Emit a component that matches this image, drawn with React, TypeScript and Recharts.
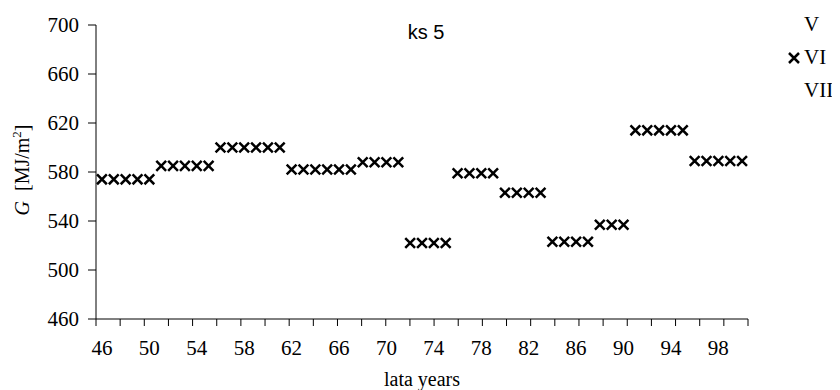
import React from "react";
import { ComposedChart, Line, XAxis, YAxis, Legend } from "recharts";

const yearLabels = [
  "46", "47", "48", "49", "50", "51", "52", "53", "54", "55",
  "56", "57", "58", "59", "60", "61", "62", "63", "64", "65",
  "66", "67", "68", "69", "70", "71", "72", "73", "74", "75",
  "76", "77", "78", "79", "80", "81", "82", "83", "84", "85",
  "86", "87", "88", "89", "90", "91", "92", "93", "94", "95",
  "96", "97", "98", "99", "00",
];

// Series VI (the only one with visible markers)
const valuesVI = [
  574, 574, 574, 574, 574,
  585, 585, 585, 585, 585,
  600, 600, 600, 600, 600, 600,
  582, 582, 582, 582, 582, 582,
  588, 588, 588, 588,
  522, 522, 522, 522,
  579, 579, 579, 579,
  563, 563, 563, 563,
  523, 523, 523, 523,
  537, 537, 537,
  614, 614, 614, 614, 614,
  589, 589, 589, 589, 589,
];

const seriesNames = ["V", "VI", "VII"];
const yTicks = [460, 500, 540, 580, 620, 660, 700];
const yDomain = [460, 700];
const title = "ks 5";
const xTitle = "lata years";

const data = yearLabels.map((year, i) => ({ year, VI: valuesVI[i] }));
const gridTicks = yearLabels.map((_, i) => i).filter((i) => i % 2 === 0);

const SERIF = "'Liberation Serif', 'Times New Roman', serif";
const SANS = "'Liberation Sans', Arial, sans-serif";

const XDot = (props: any) => {
  const { cx, cy, value, index } = props;
  if (cx == null || cy == null || value == null) return <g key={`e${index}`} />;
  const h = 4.9;
  return (
    <path
      key={`d${index}`}
      d={`M${cx - h},${cy - h}L${cx + h},${cy + h}M${cx - h},${cy + h}L${cx + h},${cy - h}`}
      stroke="#000"
      strokeWidth={2.5}
      fill="none"
    />
  );
};

const XTick = (props: any) => {
  const { x, y, payload } = props;
  return (
    <text x={x} y={y} dy="0.71em" textAnchor="middle" fontFamily={SERIF} fontSize={21} fill="#000">
      {payload.value}
    </text>
  );
};

const YTick = (props: any) => {
  const { x, y, payload } = props;
  return (
    <text x={x} y={y} dy="0.355em" textAnchor="end" fontFamily={SERIF} fontSize={21} fill="#000">
      {payload.value}
    </text>
  );
};

const renderLegend = () => (
  <div style={{ fontFamily: SERIF, fontSize: 21, color: "#000", whiteSpace: "nowrap" }}>
    {seriesNames.map((name: string) => (
      <div key={name} style={{ display: "flex", alignItems: "center", height: 33.2, lineHeight: "33.2px" }}>
        <svg width={12} height={14} style={{ display: "block", flex: "none" }}>
          {name === "VI" ? (
            <path d="M1,2L11,12M1,12L11,2" stroke="#000" strokeWidth={2.5} fill="none" />
          ) : null}
        </svg>
        <span style={{ marginLeft: 4 }}>{name}</span>
      </div>
    ))}
  </div>
);

const renderYLabel = (props: any) => {
  const vb = props.viewBox || { x: 28, y: 17, width: 60, height: 294 };
  const x = vb.x - 7;
  const y = vb.y + vb.height / 2 - 2;
  return (
    <text
      x={x}
      y={y}
      transform={`rotate(-90 ${x} ${y})`}
      textAnchor="middle"
      fontFamily={SERIF}
      fontSize={20}
      fill="#000"
      style={{ whiteSpace: "pre" }}
    >
      <tspan fontStyle="italic">G</tspan>
      <tspan>  [MJ/m</tspan>
      <tspan dy={-8} fontSize={13}>2</tspan>
      <tspan dy={8}>]</tspan>
    </text>
  );
};

export default function App() {
  return (
    <div style={{ width: 824, height: 382, fontFamily: SERIF }}>
      <ComposedChart
        width={824}
        height={382}
        data={data}
        margin={{ top: 17, right: 84, bottom: 69, left: 28 }}
      >
        <XAxis
          xAxisId="grid"
          type="number"
          domain={[0, yearLabels.length]}
          ticks={gridTicks}
          interval={0}
          tickFormatter={() => ""}
          tickSize={7}
          height={1}
          allowDataOverflow
          axisLine={{ stroke: "#000" }}
          tickLine={{ stroke: "#000" }}
        />
        <XAxis
          xAxisId="years"
          dataKey="year"
          type="category"
          scale="band"
          interval={3}
          tickLine={false}
          axisLine={false}
          tickSize={7}
          tickMargin={13}
          height={1}
          tick={<XTick />}
        />
        <YAxis
          domain={yDomain}
          ticks={yTicks}
          interval={0}
          width={60}
          tickSize={8}
          tickMargin={9}
          allowDataOverflow
          axisLine={{ stroke: "#000" }}
          tickLine={{ stroke: "#000" }}
          tick={<YTick />}
          label={{ content: renderYLabel }}
        />
        <Line xAxisId="years" dataKey="V" name="V" stroke="none" dot={false} activeDot={false} isAnimationActive={false} />
        <Line
          xAxisId="years"
          dataKey="VI"
          name="VI"
          stroke="none"
          dot={<XDot />}
          activeDot={false}
          isAnimationActive={false}
        />
        <Line xAxisId="years" dataKey="VII" name="VII" stroke="none" dot={false} activeDot={false} isAnimationActive={false} />
        <Legend
          layout="vertical"
          align="center"
          verticalAlign="middle"
          content={renderLegend}
          wrapperStyle={{ left: 780, top: 0, width: 46 }}
        />
        <text x={418} y={31} textAnchor="middle" fontFamily={SANS} fontSize={20} fill="#000">
          {title}
        </text>
        <text x={414} y={378} textAnchor="middle" fontFamily={SERIF} fontSize={20} fill="#000">
          {xTitle}
        </text>
      </ComposedChart>
    </div>
  );
}
